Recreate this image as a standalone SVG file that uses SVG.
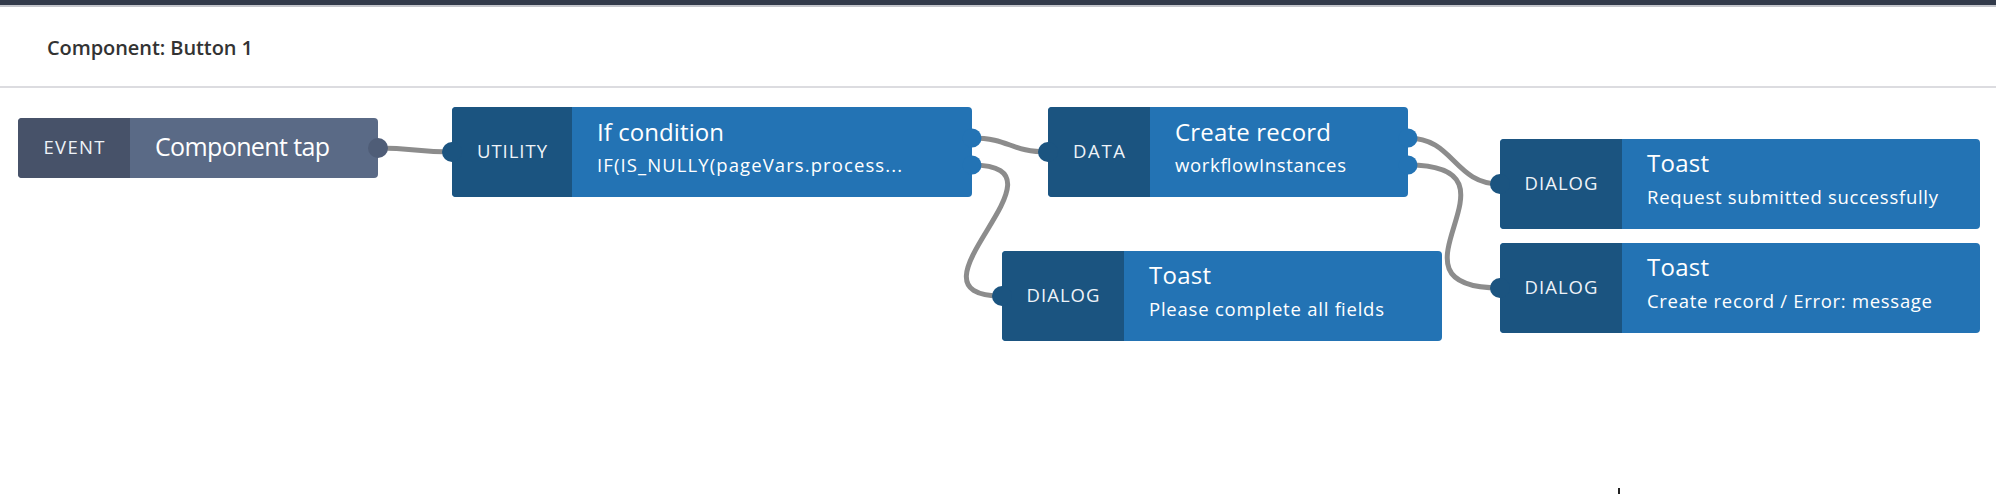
<svg xmlns="http://www.w3.org/2000/svg" width="1996" height="494" viewBox="0 0 1996 494">
  <style>
    .bg { fill: #ffffff; }
    .lab { fill: #1b5480; }
    .body { fill: #2373b4; }
    .elab { fill: #475269; }
    .ebody { fill: #5a6a86; }
    .tag { font-family: "Open Sans", Lato, sans-serif; font-size: 18.5px; fill: #eef3f8; text-anchor: middle; }
    .title { font-family: "Open Sans", Lato, sans-serif; font-size: 24px; fill: #ffffff; }
    .sub { font-family: "Open Sans", Lato, sans-serif; font-size: 18.5px; fill: #ffffff; }
    .conn { fill: none; stroke: #8c8c8c; stroke-width: 5; stroke-linecap: round; }
    .hdr { font-family: "Open Sans", Lato, sans-serif; font-size: 20px; font-weight: 600; fill: #333333; }
  </style>
  <rect class="bg" x="0" y="0" width="1996" height="494"/>
  <rect x="0" y="0" width="1996" height="5" fill="#323a4a"/>
  <rect x="0" y="5" width="1996" height="2" fill="#c4c6cc"/>
  <text class="hdr" x="47" y="55" textLength="206" lengthAdjust="spacing">Component: Button 1</text>
  <rect x="0" y="86" width="1996" height="2" fill="#dcdce0"/>

  <g id="connectors">
    <path class="conn" d="M378,148 C415,148 415,152 452,152"/>
    <path class="conn" d="M972,138 C1010,138 1010,152 1048,152"/>
    <path class="conn" d="M972,165 C1082,165 892,296 1002,296"/>
    <path class="conn" d="M1408,138 C1454,138 1454,184 1500,184"/>
    <path class="conn" d="M1408,165 C1538,165 1370,288 1500,288"/>
  </g>

  <g id="event">
    <rect class="ebody" x="18" y="118" width="360" height="60" rx="4"/>
    <path class="elab" d="M22,118 H130 V178 H22 A4,4 0 0 1 18,174 V122 A4,4 0 0 1 22,118 Z"/>
    <circle cx="378" cy="148" r="10" fill="#4f5d77"/>
    <text class="tag" x="74" y="154" textLength="61" lengthAdjust="spacing">EVENT</text>
    <text class="title" x="155" y="156" style="font-size:25px" textLength="175" lengthAdjust="spacing">Component tap</text>
  </g>

  <g id="utility">
    <rect class="body" x="452" y="107" width="520" height="90" rx="4"/>
    <path class="lab" d="M456,107 H572 V197 H456 A4,4 0 0 1 452,193 V111 A4,4 0 0 1 456,107 Z"/>
    <circle class="lab" cx="452" cy="152" r="10"/>
    <circle class="body" cx="972" cy="138" r="9.5"/>
    <circle class="body" cx="972" cy="165" r="9.5"/>
    <text class="tag" x="512" y="158" textLength="70" lengthAdjust="spacing">UTILITY</text>
    <text class="title" x="597" y="141" textLength="127" lengthAdjust="spacing">If condition</text>
    <text class="sub" x="597" y="172" textLength="305" lengthAdjust="spacing">IF(IS_NULLY(pageVars.process...</text>
  </g>

  <g id="data">
    <rect class="body" x="1048" y="107" width="360" height="90" rx="4"/>
    <path class="lab" d="M1052,107 H1150 V197 H1052 A4,4 0 0 1 1048,193 V111 A4,4 0 0 1 1052,107 Z"/>
    <circle class="lab" cx="1048" cy="152" r="10"/>
    <circle class="body" cx="1408" cy="138" r="9.5"/>
    <circle class="body" cx="1408" cy="165" r="9.5"/>
    <text class="tag" x="1099" y="158" textLength="52" lengthAdjust="spacing">DATA</text>
    <text class="title" x="1175" y="141" textLength="156" lengthAdjust="spacing">Create record</text>
    <text class="sub" x="1175" y="172" textLength="171" lengthAdjust="spacing">workflowInstances</text>
  </g>

  <g id="dialog-success">
    <rect class="body" x="1500" y="139" width="480" height="90" rx="4"/>
    <path class="lab" d="M1504,139 H1622 V229 H1504 A4,4 0 0 1 1500,225 V143 A4,4 0 0 1 1504,139 Z"/>
    <circle class="lab" cx="1500" cy="184" r="10"/>
    <text class="tag" x="1561" y="190" textLength="73" lengthAdjust="spacing">DIALOG</text>
    <text class="title" x="1647" y="172" textLength="62" lengthAdjust="spacing">Toast</text>
    <text class="sub" x="1647" y="204" textLength="291" lengthAdjust="spacing">Request submitted successfully</text>
  </g>

  <g id="dialog-error">
    <rect class="body" x="1500" y="243" width="480" height="90" rx="4"/>
    <path class="lab" d="M1504,243 H1622 V333 H1504 A4,4 0 0 1 1500,329 V247 A4,4 0 0 1 1504,243 Z"/>
    <circle class="lab" cx="1500" cy="288" r="10"/>
    <text class="tag" x="1561" y="294" textLength="73" lengthAdjust="spacing">DIALOG</text>
    <text class="title" x="1647" y="276" textLength="62" lengthAdjust="spacing">Toast</text>
    <text class="sub" x="1647" y="308" textLength="285" lengthAdjust="spacing">Create record / Error: message</text>
  </g>

  <g id="dialog-incomplete">
    <rect class="body" x="1002" y="251" width="440" height="90" rx="4"/>
    <path class="lab" d="M1006,251 H1124 V341 H1006 A4,4 0 0 1 1002,337 V255 A4,4 0 0 1 1006,251 Z"/>
    <circle class="lab" cx="1002" cy="296" r="10"/>
    <text class="tag" x="1063" y="302" textLength="73" lengthAdjust="spacing">DIALOG</text>
    <text class="title" x="1149" y="284" textLength="62" lengthAdjust="spacing">Toast</text>
    <text class="sub" x="1149" y="316" textLength="235" lengthAdjust="spacing">Please complete all fields</text>
  </g>

  <rect x="1618" y="488" width="2" height="6" fill="#222222"/>
</svg>
